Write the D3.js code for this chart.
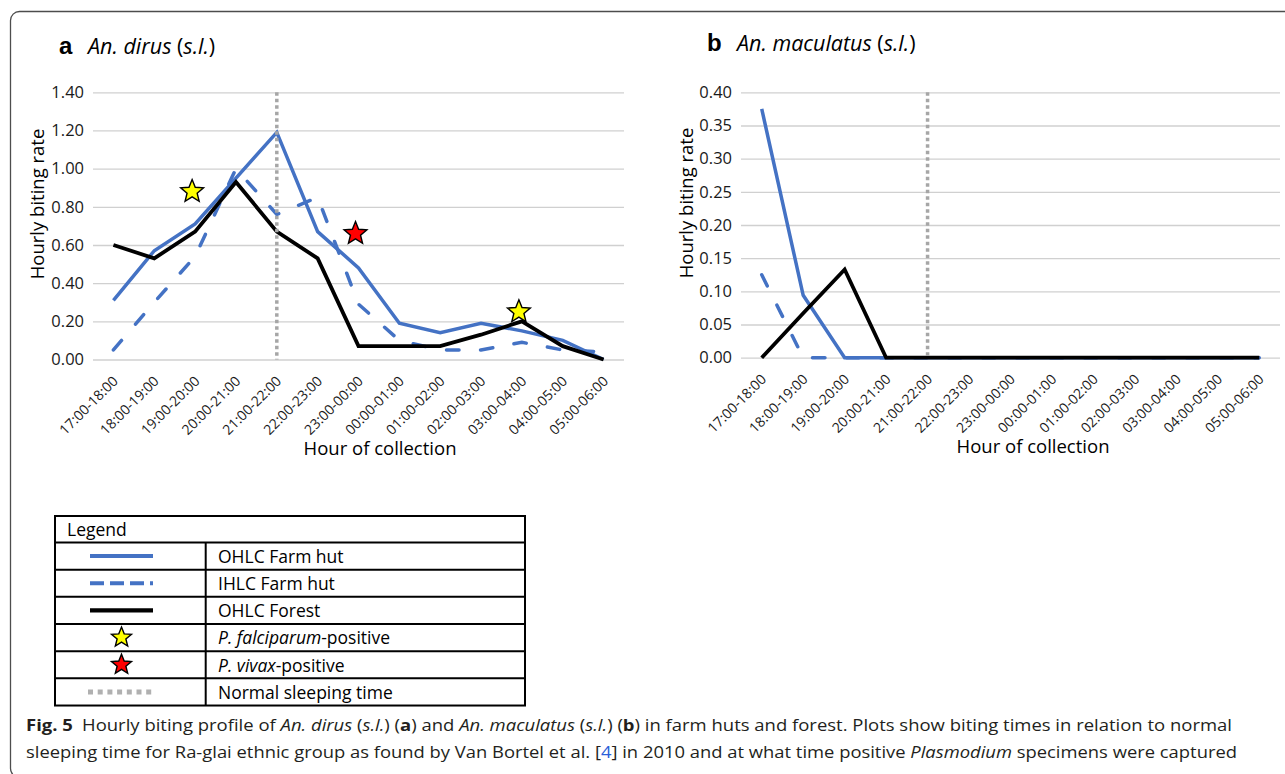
<!DOCTYPE html>
<html><head><meta charset="utf-8">
<script src="https://cdn.jsdelivr.net/npm/d3@7"></script>
<style>body{margin:0;background:#fff;} svg{display:block;}</style>
</head><body>
<svg id="chart" width="1285" height="774"></svg>
<script>
// ---------- DATA ----------
const categories = ["17:00-18:00","18:00-19:00","19:00-20:00","20:00-21:00","21:00-22:00","22:00-23:00",
  "23:00-00:00","00:00-01:00","01:00-02:00","02:00-03:00","03:00-04:00","04:00-05:00","05:00-06:00"];

// Panel a: An. dirus (s.l.)
const dirusOHLCFarm   = [0.31, 0.57, 0.71, 0.95, 1.19, 0.67, 0.48, 0.19, 0.14, 0.19, 0.15, 0.10, 0.00];
const dirusIHLCFarm   = [0.05, 0.30, 0.54, 1.00, 0.76, 0.85, 0.29, 0.10, 0.05, 0.05, 0.09, 0.05, 0.04];
const dirusOHLCForest = [0.60, 0.53, 0.67, 0.93, 0.67, 0.53, 0.07, 0.07, 0.07, 0.13, 0.20, 0.07, 0.00];
const dirusStars = [
  {cat: "19:00-20:00", value: 0.88, type: "falciparum"},
  {cat: "23:00-00:00", value: 0.66, type: "vivax"},
  {cat: "03:00-04:00", value: 0.25, type: "falciparum"}
];
const dirusTicks = [0, 0.2, 0.4, 0.6, 0.8, 1.0, 1.2, 1.4];

// Panel b: An. maculatus (s.l.)
const macOHLCFarm   = [0.375, 0.094, 0, 0, 0, 0, 0, 0, 0, 0, 0, 0, 0];
const macIHLCFarm   = [0.125, 0, 0, 0, 0, 0, 0, 0, 0, 0, 0, 0, 0];
const macOHLCForest = [0, 0.067, 0.133, 0, 0, 0, 0, 0, 0, 0, 0, 0, 0];
const macStars = [];
const macTicks = [0, 0.05, 0.10, 0.15, 0.20, 0.25, 0.30, 0.35, 0.40];

const sleepCategory = "21:00-22:00";

const legendLabels = ["OHLC Farm hut", "IHLC Farm hut", "OHLC Forest", "P. falciparum-positive", "P. vivax-positive", "Normal sleeping time"];

// ---------- STYLE ----------
const BLUE = "#4472C4";
const FONT = "'Open Sans', 'Noto Sans', sans-serif";
const seriesStyle = {
  ohlcFarm:   {stroke: BLUE, width: 3.5, dash: null, cap: "butt"},
  ihlcFarm:   {stroke: BLUE, width: 3.5, dash: "12.5,21.5", cap: "round"},
  ohlcForest: {stroke: "#000", width: 3.8, dash: null, cap: "butt"}
};
const starFill = {falciparum: "#ffff00", vivax: "#ff0000"};

const svg = d3.select("#chart");

// outer frame
svg.append("rect").attr("x", 10.5).attr("y", 11.5).attr("width", 1400).attr("height", 766)
  .attr("rx", 9).attr("fill", "none").attr("stroke", "#4d4d4d").attr("stroke-width", 1.3);

function starPath(R, r) {
  const pts = [];
  for (let i = 0; i < 10; i++) {
    const a = -Math.PI / 2 + i * Math.PI / 5;
    const rad = i % 2 ? r : R;
    pts.push([rad * Math.cos(a), rad * Math.sin(a)]);
  }
  return "M" + pts.map(p => p[0].toFixed(2) + "," + p[1].toFixed(2)).join("L") + "Z";
}

function panel(cfg) {
  const g = svg.append("g");
  const x = d3.scalePoint().domain(categories).range(cfg.xRange).padding(0.5);
  const y = d3.scaleLinear().domain([0, cfg.yMax]).range(cfg.yRange);

  // y axis with gridlines
  const ya = g.append("g").attr("transform", `translate(${cfg.xRange[0]},0)`)
    .call(d3.axisLeft(y).tickValues(cfg.ticks).tickFormat(d3.format(".2f"))
      .tickSize(-(cfg.xRange[1] - cfg.xRange[0])).tickPadding(9));
  ya.select(".domain").remove();
  ya.selectAll(".tick line").attr("stroke", "#d0d0d0").attr("stroke-width", 1.3);
  ya.selectAll(".tick text").attr("font-family", FONT).attr("font-size", 16.5).attr("fill", "#1a1a1a");

  // x axis
  const xa = g.append("g").attr("transform", `translate(0,${y(0)})`)
    .call(d3.axisBottom(x).tickSize(0).tickPadding(0));
  xa.select(".domain").remove();
  xa.selectAll(".tick text").attr("font-family", FONT).attr("font-size", 14).attr("fill", "#1a1a1a")
    .attr("y", 0).attr("dy", "0.35em").attr("text-anchor", "end")
    .attr("transform", "translate(1.5,19) rotate(-45)");

  // series
  const line = d3.line().x((d, i) => x(categories[i])).y(d => y(d));
  cfg.series.forEach(s => {
    const st = seriesStyle[s.key];
    g.append("path").datum(s.values).attr("d", line).attr("fill", "none")
      .attr("stroke", st.stroke).attr("stroke-width", st.width)
      .attr("stroke-dasharray", st.dash).attr("stroke-linecap", st.cap)
      .attr("stroke-linejoin", "miter");
  });

  // sleeping time line
  g.append("line").attr("x1", x(sleepCategory)).attr("x2", x(sleepCategory))
    .attr("y1", y(cfg.yMax)).attr("y2", y(0))
    .attr("stroke", "#a6a6a6").attr("stroke-width", 3.5).attr("stroke-dasharray", "3.5,3");

  // stars
  g.selectAll(".star").data(cfg.stars).enter().append("path")
    .attr("d", starPath(12, 5.3))
    .attr("transform", d => `translate(${x(d.cat) - 3},${y(d.value)})`)
    .attr("fill", d => starFill[d.type]).attr("stroke", "#000").attr("stroke-width", 1.4)
    .attr("stroke-linejoin", "miter");

  // titles
  g.append("text").attr("x", cfg.letterX).attr("y", cfg.titleY)
    .attr("font-family", "'Liberation Sans', Arial, sans-serif").attr("font-weight", "bold")
    .attr("font-size", 24).attr("fill", "#000").text(cfg.letter);
  const tt = g.append("text").attr("x", cfg.speciesX).attr("y", cfg.titleY)
    .attr("font-family", FONT).attr("font-size", 21.5).attr("fill", "#000");
  tt.append("tspan").attr("font-style", "italic").text(cfg.species + " ");
  tt.append("tspan").text("(");
  tt.append("tspan").attr("font-style", "italic").text("s.l.");
  tt.append("tspan").text(")");

  // axis titles
  g.append("text").attr("transform", `translate(${cfg.yTitleX},${cfg.yTitleY}) rotate(-90)`)
    .attr("text-anchor", "middle").attr("font-family", FONT).attr("font-size", 18.5)
    .attr("fill", "#000").text("Hourly biting rate");
  g.append("text").attr("x", cfg.xTitleX).attr("y", cfg.xTitleY)
    .attr("text-anchor", "middle").attr("font-family", FONT).attr("font-size", 18.5)
    .attr("fill", "#000").text("Hour of collection");
}

panel({
  xRange: [93, 624], yRange: [359.5, 92.3], yMax: 1.4, ticks: dirusTicks,
  series: [{key: "ohlcFarm", values: dirusOHLCFarm}, {key: "ihlcFarm", values: dirusIHLCFarm}, {key: "ohlcForest", values: dirusOHLCForest}],
  stars: dirusStars, letter: "a", species: "An. dirus", letterX: 59, speciesX: 88, titleY: 54,
  yTitleX: 44, yTitleY: 204, xTitleX: 380, xTitleY: 455
});
panel({
  xRange: [741, 1280], yRange: [357.7, 92.3], yMax: 0.4, ticks: macTicks,
  series: [{key: "ihlcFarm", values: macIHLCFarm}, {key: "ohlcFarm", values: macOHLCFarm}, {key: "ohlcForest", values: macOHLCForest}],
  stars: macStars, letter: "b", species: "An. maculatus", letterX: 707, speciesX: 737, titleY: 51,
  yTitleX: 693, yTitleY: 203, xTitleX: 1033, xTitleY: 453
});

// ---------- LEGEND TABLE ----------
const lg = svg.append("g");
const tbl = {x0: 55, x1: 525, y0: 516, header: 26.5, colX: 205.7, rowH: 27.17};
const rowsY = d3.range(legendLabels.length).map(i => tbl.y0 + tbl.header + i * tbl.rowH);
const tblBottom = tbl.y0 + tbl.header + legendLabels.length * tbl.rowH;
lg.append("rect").attr("x", tbl.x0).attr("y", tbl.y0).attr("width", tbl.x1 - tbl.x0)
  .attr("height", tblBottom - tbl.y0).attr("fill", "none").attr("stroke", "#000").attr("stroke-width", 2);
rowsY.forEach(yy => lg.append("line").attr("x1", tbl.x0).attr("x2", tbl.x1).attr("y1", yy).attr("y2", yy)
  .attr("stroke", "#000").attr("stroke-width", 2));
lg.append("line").attr("x1", tbl.colX).attr("x2", tbl.colX).attr("y1", rowsY[0]).attr("y2", tblBottom)
  .attr("stroke", "#000").attr("stroke-width", 2);
lg.append("text").attr("x", 67).attr("y", tbl.y0 + 19.5).attr("font-family", FONT).attr("font-size", 17.5)
  .attr("fill", "#000").text("Legend");

const sx0 = 90, sx1 = 153, scx = 121.5;
legendLabels.forEach((lab, i) => {
  const cy = rowsY[i] + tbl.rowH / 2;
  if (i === 0) lg.append("line").attr("x1", sx0).attr("x2", sx1).attr("y1", cy).attr("y2", cy).attr("stroke", BLUE).attr("stroke-width", 4);
  if (i === 1) lg.append("line").attr("x1", sx0).attr("x2", sx1).attr("y1", cy).attr("y2", cy).attr("stroke", BLUE).attr("stroke-width", 4).attr("stroke-dasharray", "14,6");
  if (i === 2) lg.append("line").attr("x1", sx0).attr("x2", sx1).attr("y1", cy).attr("y2", cy).attr("stroke", "#000").attr("stroke-width", 4.2);
  if (i === 3 || i === 4) lg.append("path").attr("d", starPath(10.5, 4.6)).attr("transform", `translate(${scx},${cy})`)
      .attr("fill", i === 3 ? starFill.falciparum : starFill.vivax).attr("stroke", "#000").attr("stroke-width", 1.4);
  if (i === 5) lg.append("line").attr("x1", sx0 - 2).attr("x2", sx1).attr("y1", cy).attr("y2", cy).attr("stroke", "#b0b0b0").attr("stroke-width", 5).attr("stroke-dasharray", "5,4.7");
  const t = lg.append("text").attr("x", 218).attr("y", cy + 6.8).attr("font-family", FONT).attr("font-size", 17.5).attr("fill", "#000");
  const m = lab.match(/^(P\. \w+)(-positive)$/);
  if (m) { t.append("tspan").attr("font-style", "italic").text(m[1]); t.append("tspan").text(m[2]); }
  else t.text(lab);
});

// ---------- CAPTION ----------
const capColor = "#231f20";
function caption(yy, len, parts) {
  const t = svg.append("text").attr("x", 26).attr("y", yy).attr("font-family", FONT).attr("font-size", 15.5)
    .attr("fill", capColor).attr("textLength", len).attr("lengthAdjust", "spacingAndGlyphs");
  parts.forEach(p => {
    const s = t.append("tspan").text(p.t);
    if (p.b) s.attr("font-weight", "bold");
    if (p.i) s.attr("font-style", "italic");
    if (p.c) s.attr("fill", p.c);
  });
}
caption(730.5, 1206, [
  {t: "Fig. 5", b: 1}, {t: "\u2002Hourly biting profile of "}, {t: "An. dirus", i: 1}, {t: " ("}, {t: "s.l.", i: 1}, {t: ") ("},
  {t: "a", b: 1}, {t: ") and "}, {t: "An. maculatus", i: 1}, {t: " ("}, {t: "s.l.", i: 1}, {t: ") ("}, {t: "b", b: 1},
  {t: ") in farm huts and forest. Plots show biting times in relation to normal"}
]);
caption(757.5, 1211, [
  {t: "sleeping time for Ra-glai ethnic group as found by Van Bortel et al. ["}, {t: "4", c: "#2b5fd9"},
  {t: "] in 2010 and at what time positive "}, {t: "Plasmodium", i: 1}, {t: " specimens were captured"}
]);
</script>
</body></html>
